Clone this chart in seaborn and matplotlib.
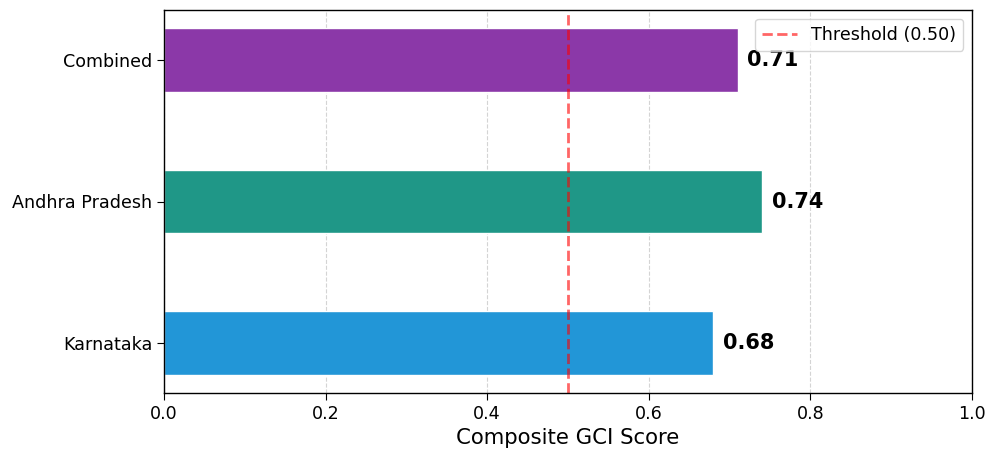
import matplotlib
matplotlib.use("Agg")
import matplotlib.pyplot as plt
import seaborn as sns
import pandas as pd

regions = ["Combined", "Andhra Pradesh", "Karnataka"]
scores = [0.71, 0.74, 0.68]
colors = ["#8b38a8", "#1f9787", "#2296d7"]
threshold = 0.50

sns.set_style("white")
plt.rcParams['font.family'] = ['DejaVu Sans']
plt.rcParams['text.color'] = 'black'
plt.rcParams['xtick.color'] = 'black'
plt.rcParams['ytick.color'] = 'black'
plt.rcParams['axes.labelcolor'] = 'black'

df = pd.DataFrame({"Region": regions, "Score": scores})

fig = plt.figure(figsize=(9.87, 4.53), dpi=100)
ax = fig.add_axes([164/987, 1 - 393/453, (972-164)/987, (393-10)/453])

sns.barplot(data=df, y="Region", x="Score", hue="Region", palette=colors,
            order=regions, hue_order=regions, orient="h", width=0.45,
            legend=False, ax=ax, saturation=1)

ax.axvline(threshold, color="red", linestyle="--", linewidth=2, alpha=0.6,
           label=f"Threshold ({threshold:.2f})")

for i, v in enumerate(scores):
    ax.text(v + 0.012, i, f"{v:.2f}", va="center", ha="left",
            fontsize=15, fontweight="bold", color="black")

ax.set_xlim(0, 1.0)
ax.set_ylim(2.35, -0.35)
ax.set_xlabel("Composite GCI Score", fontsize=15.3)
ax.set_ylabel("")
ax.tick_params(axis="both", labelsize=12.6, length=5, left=True, bottom=True)
ax.grid(axis="x", linestyle="--", alpha=0.5, color="#aaaaaa")
ax.set_axisbelow(True)
for s in ax.spines.values():
    s.set_visible(True)
    s.set_color("black")
    s.set_linewidth(1.0)
ax.legend(loc="upper right", fontsize=12.6)

fig.savefig("out.png", dpi=100)
